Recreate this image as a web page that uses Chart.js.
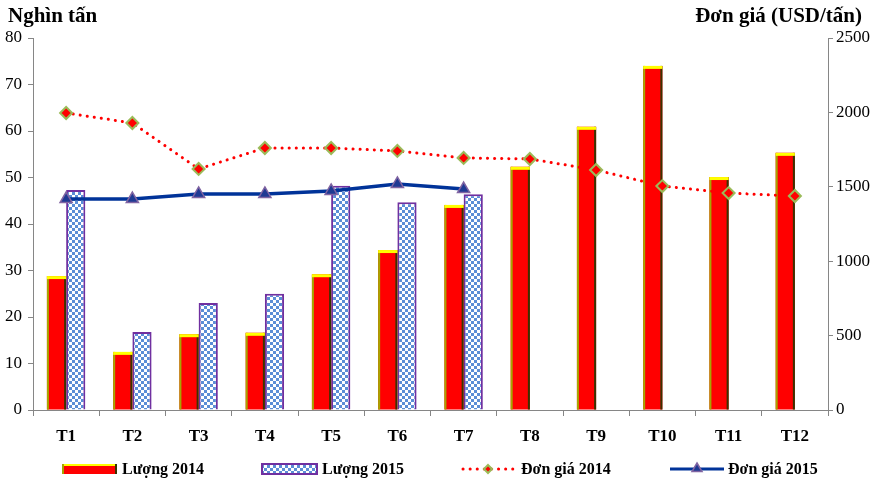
<!DOCTYPE html>
<html>
<head>
<meta charset="utf-8">
<script src="https://cdn.jsdelivr.net/npm/chart.js@4.4.0/dist/chart.umd.min.js"></script>
<style>
  body { margin: 0; background: #fff; }
  #wrap { width: 879px; height: 480px; }
</style>
</head>
<body>
<div id="wrap"><canvas id="chart" width="879" height="480"></canvas></div>
<script>
const months = ["T1", "T2", "T3", "T4", "T5", "T6", "T7", "T8", "T9", "T10", "T11", "T12"];
const luong2014 = [28.8, 12.5, 16.3, 16.6, 29.2, 34.4, 44.1, 52.3, 60.9, 74.0, 50.1, 55.3];
const luong2015 = [47.3, 16.8, 23.0, 25.0, 48.2, 44.7, 46.4, null, null, null, null, null];
const donGia2014 = [1996, 1929, 1620, 1761, 1761, 1741, 1694, 1687, 1613, 1505, 1458, 1438];
const donGia2015 = [1418, 1418, 1452, 1452, 1472, 1519, 1485, null, null, null, null, null];
const leftTicks = { min: 0, max: 80, step: 10 };
const rightTicks = { min: 0, max: 2500, step: 500 };

const serif = "'Liberation Serif', 'Times New Roman', serif";
const axisGray = "#868686";

// checkerboard fill for the 2015 bars
function makeChecker() {
  const c = document.createElement("canvas");
  c.width = 6; c.height = 6;
  const g = c.getContext("2d");
  g.fillStyle = "#ffffff";
  g.fillRect(0, 0, 6, 6);
  g.fillStyle = "#5b8ed6";
  g.fillRect(0, 0, 3, 3);
  g.fillRect(3, 3, 3, 3);
  return g.createPattern(c, "repeat");
}
const checker = makeChecker();

// edges of the red bars: olive left, yellow top, dark right
const redEdges = {
  id: "redEdges",
  afterDatasetDraw(chart, args) {
    if (args.index !== 0) return;
    const ctx = chart.ctx;
    ctx.save();
    args.meta.data.forEach(bar => {
      if (bar.skip) return;
      const l = bar.x - bar.width / 2, r = bar.x + bar.width / 2;
      ctx.fillStyle = "#a6a600";
      ctx.fillRect(l, bar.y, 2, bar.base - bar.y);
      ctx.fillStyle = "#3a3300";
      ctx.fillRect(r - 2, bar.y, 2, bar.base - bar.y);
      ctx.fillStyle = "#ffff00";
      ctx.fillRect(l, bar.y, bar.width, 3);
    });
    ctx.restore();
  }
};

function drawDiamond(ctx, x, y, r) {
  ctx.beginPath();
  ctx.moveTo(x, y - r); ctx.lineTo(x + r, y); ctx.lineTo(x, y + r); ctx.lineTo(x - r, y);
  ctx.closePath();
  ctx.fillStyle = "#ff0000"; ctx.fill();
  ctx.lineWidth = 2; ctx.strokeStyle = "#9bbb59"; ctx.stroke();
}
function drawTriangle(ctx, x, y, r) {
  ctx.beginPath();
  ctx.moveTo(x, y - r); ctx.lineTo(x + r, y + r * 0.7); ctx.lineTo(x - r, y + r * 0.7);
  ctx.closePath();
  ctx.fillStyle = "#1f3a93"; ctx.fill();
  ctx.lineWidth = 1.5; ctx.strokeStyle = "#8064a2"; ctx.stroke();
}

// axis titles + legend
const decor = {
  id: "decor",
  afterDraw(chart) {
    const ctx = chart.ctx;
    ctx.save();
    ctx.fillStyle = "#000";
    ctx.font = "bold 21px " + serif;
    ctx.textBaseline = "alphabetic";
    ctx.textAlign = "left";
    ctx.fillText("Nghìn tấn", 8, 22);
    ctx.textAlign = "right";
    ctx.fillText("Đơn giá (USD/tấn)", 862, 22);

    const ly = 469;
    ctx.font = "bold 16px " + serif;
    ctx.textAlign = "left";
    ctx.textBaseline = "middle";
    // Lượng 2014
    ctx.fillStyle = "#ff0000"; ctx.fillRect(62, ly - 5, 55, 10);
    ctx.fillStyle = "#ffff00"; ctx.fillRect(62, ly - 5, 55, 2);
    ctx.fillStyle = "#a6a600"; ctx.fillRect(62, ly - 5, 2, 10);
    ctx.fillStyle = "#3a3300"; ctx.fillRect(115, ly - 5, 2, 10);
    ctx.fillStyle = "#000"; ctx.fillText("Lượng 2014", 122, ly + 1);
    // Lượng 2015
    ctx.fillStyle = checker; ctx.fillRect(262, ly - 5, 55, 10);
    ctx.lineWidth = 2; ctx.strokeStyle = "#7030a0"; ctx.strokeRect(262, ly - 5, 55, 10);
    ctx.fillStyle = "#000"; ctx.fillText("Lượng 2015", 322, ly + 1);
    // Đơn giá 2014
    ctx.strokeStyle = "#ff0000"; ctx.lineWidth = 3; ctx.lineCap = "round";
    ctx.setLineDash([0.1, 7]);
    ctx.beginPath(); ctx.moveTo(463, ly); ctx.lineTo(514, ly); ctx.stroke();
    ctx.setLineDash([]); ctx.lineCap = "butt";
    drawDiamond(ctx, 488, ly, 4);
    ctx.fillStyle = "#000"; ctx.fillText("Đơn giá 2014", 521, ly + 1);
    // Đơn giá 2015
    ctx.strokeStyle = "#003399"; ctx.lineWidth = 3;
    ctx.beginPath(); ctx.moveTo(670, ly); ctx.lineTo(724, ly); ctx.stroke();
    drawTriangle(ctx, 697, ly - 1, 5);
    ctx.fillStyle = "#000"; ctx.fillText("Đơn giá 2015", 728, ly + 1);
    ctx.restore();
  }
};

const ctx = document.getElementById("chart");
new Chart(ctx, {
  type: "bar",
  data: {
    labels: months,
    datasets: [
      {
        label: "Lượng 2014",
        data: luong2014,
        backgroundColor: "#ff0000",
        borderWidth: 0,
        yAxisID: "y",
        order: 2,
        categoryPercentage: 0.58,
        barPercentage: 1
      },
      {
        label: "Lượng 2015",
        data: luong2015,
        backgroundColor: checker,
        borderColor: "#7030a0",
        borderWidth: 2,
        yAxisID: "y",
        order: 2,
        categoryPercentage: 0.58,
        barPercentage: 1
      },
      {
        type: "line",
        label: "Đơn giá 2014",
        data: donGia2014,
        borderColor: "#ff0000",
        borderWidth: 3,
        borderDash: [0.1, 7],
        borderCapStyle: "round",
        tension: 0,
        pointStyle: "rectRot",
        pointRadius: 6,
        pointBackgroundColor: "#ff0000",
        pointBorderColor: "#9bbb59",
        pointBorderWidth: 2,
        yAxisID: "y2",
        order: 0
      },
      {
        type: "line",
        label: "Đơn giá 2015",
        data: donGia2015,
        borderColor: "#003399",
        borderWidth: 3.5,
        tension: 0,
        pointStyle: "triangle",
        pointRadius: 7,
        pointBackgroundColor: "#1f3a93",
        pointBorderColor: "#8064a2",
        pointBorderWidth: 1.5,
        yAxisID: "y2",
        order: 1
      }
    ]
  },
  options: {
    responsive: false,
    animation: false,
    layout: { padding: { top: 38, bottom: 30, left: 0, right: 0 } },
    plugins: {
      legend: { display: false },
      tooltip: { enabled: false }
    },
    scales: {
      x: {
        offset: true,
        grid: { offset: true, drawOnChartArea: false, tickLength: 6, color: axisGray },
        border: { color: axisGray, width: 1 },
        ticks: { color: "#000", font: { family: serif, size: 17, weight: "bold" }, padding: 10 },
        afterFit(scale) { scale.height = 40; }
      },
      y: {
        position: "left",
        min: leftTicks.min,
        max: leftTicks.max,
        ticks: { stepSize: leftTicks.step, color: "#000", font: { family: serif, size: 17 }, padding: 6 },
        grid: { drawOnChartArea: false, tickLength: 5, color: axisGray },
        border: { color: axisGray, width: 1 },
        afterFit(scale) { scale.width = 33; }
      },
      y2: {
        position: "right",
        min: rightTicks.min,
        max: rightTicks.max,
        ticks: {
          stepSize: rightTicks.step, color: "#000", font: { family: serif, size: 17 }, padding: 3,
          callback: v => String(v)
        },
        grid: { drawOnChartArea: false, tickLength: 5, color: axisGray },
        border: { color: axisGray, width: 1 },
        afterFit(scale) { scale.width = 51; }
      }
    }
  },
  plugins: [redEdges, decor]
});
</script>
</body>
</html>
